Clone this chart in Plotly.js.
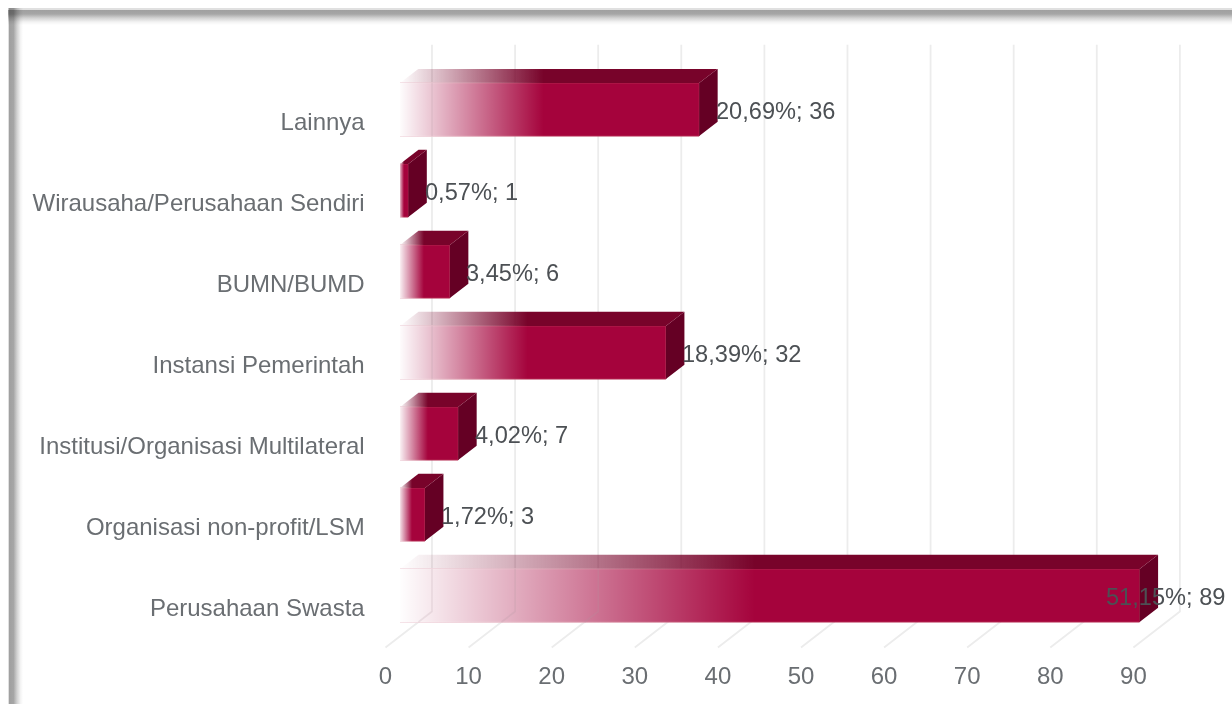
<!DOCTYPE html>
<html>
<head>
<meta charset="utf-8">
<script src="https://cdn.plot.ly/plotly-3.0.1.min.js"></script>
<style>
html,body{margin:0;padding:0;background:#fff;overflow:hidden;width:1232px;height:704px}
.band{position:absolute;mix-blend-mode:multiply}
#bandTop{left:8px;top:0;width:1224px;height:30px;background:linear-gradient(to bottom,#fff 8px,#e0e0e0 8px,#e0e0e0 9.5px,#a0a0a0 10px,#a6a6a6 14px,#d2d2d2 18px,#f3f3f3 22px,#fff 25px)}
#bandLeft{left:0;top:8px;width:30px;height:696px;background:linear-gradient(to right,#fff 8px,#e0e0e0 8px,#e0e0e0 9px,#a0a0a0 9.5px,#a6a6a6 13.5px,#d2d2d2 17px,#f3f3f3 20.5px,#fff 23px)}
#chart{position:absolute;left:0;top:0;width:1232px;height:704px;filter:blur(0.45px)}
</style>
</head>
<body>
<div id="bandTop" class="band"></div>
<div id="bandLeft" class="band"></div>
<div id="chart"></div>
<script>
const categories = ["Lainnya","Wirausaha/Perusahaan Sendiri","BUMN/BUMD","Instansi Pemerintah","Institusi/Organisasi Multilateral","Organisasi non-profit/LSM","Perusahaan Swasta"];
const counts = [36,1,6,32,7,3,89];
const percents = ["20,69%","0,57%","3,45%","18,39%","4,02%","1,72%","51,15%"];
const xTicks = [0,10,20,30,40,50,60,70,80,90];

const W = 1232, H = 704, PXU = 8.31, ROW = 81;
const FRONT = {l:385.5, t:81.5};
const BARS  = {l:400,   t:69};
const BACK  = {l:432,   t:44.5};
const domX = (l,u0,u1)=>[(l+u0*PXU)/W,(l+u1*PXU)/W];
const domY = (t,rows)=>[1-(t+rows*ROW)/H,1-t/H];
const idx = categories.map((_,i)=>i);

const CRIMSON = "#a5033c", TOP = "#78032a", SIDE = "#650024";
const barW = 53/ROW, dx = 18.5/PXU, dy = 14.2/ROW, fade = 0.48;
const wallDx = (BACK.l-FRONT.l)/PXU, wallDy = 36/ROW;

const traces = [];
// back wall and floor lines
const wallX=[], wallY=[];
xTicks.forEach(v=>{wallX.push(v,v,v-wallDx,null);wallY.push(-0.5,6.5,6.5+wallDy,null);});
traces.push({type:"scatter",mode:"lines",x:wallX,y:wallY,xaxis:"x",yaxis:"y",
  line:{color:"#ececec",width:1.8},hoverinfo:"skip",showlegend:false});

// real bars
traces.push({type:"bar",orientation:"h",x:counts,y:idx,width:barW,xaxis:"x2",yaxis:"y2",
  marker:{color:CRIMSON,line:{color:"#b3264f",width:1}},
  customdata:categories,hovertemplate:"%{customdata}: %{x}<extra></extra>",showlegend:false});

// side faces
const sx=[],sy=[];
counts.forEach((v,i)=>{const t=i-barW/2,b=i+barW/2;
  sx.push(v,v+dx,v+dx,v,v,null);sy.push(t,t-dy,b-dy,b,t,null);});
traces.push({type:"scatter",mode:"lines",x:sx,y:sy,xaxis:"x2",yaxis:"y2",fill:"toself",fillcolor:SIDE,
  line:{width:0,color:SIDE},hoverinfo:"skip",showlegend:false});

// top faces and fade on the front faces
counts.forEach((v,i)=>{
  const t=i-barW/2,b=i+barW/2,e=fade*v;
  const stop=Math.min(0.99,e/(v+dx));
  traces.push({type:"scatter",mode:"lines",x:[0,dx,v+dx,v,0],y:[t,t-dy,t-dy,t,t],xaxis:"x2",yaxis:"y2",fill:"toself",
    fillgradient:{type:"horizontal",colorscale:[[0,"rgba(120,3,42,0)"],[stop,"rgba(120,3,42,1)"],[1,"rgba(120,3,42,1)"]]},
    line:{width:0,color:TOP},hoverinfo:"skip",showlegend:false});
  traces.push({type:"scatter",mode:"lines",x:[-0.2,e,e,-0.2,-0.2],y:[t-0.01,t-0.01,b+0.01,b+0.01,t-0.01],xaxis:"x2",yaxis:"y2",fill:"toself",
    fillgradient:{type:"horizontal",colorscale:[[0,"rgba(255,255,255,1)"],[1,"rgba(255,255,255,0)"]]},
    line:{width:0,color:"rgba(255,255,255,0)"},hoverinfo:"skip",showlegend:false});
});

// wall lines showing faintly through the faded part of each bar
const wallInBars = (BACK.l-BARS.l)/PXU;
const floorInBars = (BACK.t+7*ROW-BARS.t)/ROW-0.5;
const thruX=[],thruY=[];
counts.forEach((v,i)=>{
  const t=i-barW/2,b=i+barW/2;
  xTicks.forEach(g=>{
    const gx=g+wallInBars;
    if(gx>=0.62*fade*v) return;
    if(b>floorInBars){
      thruX.push(gx,gx,gx-wallDx*(b-floorInBars)/wallDy,null);
      thruY.push(t,floorInBars,b,null);
    } else {
      thruX.push(gx,gx,null);thruY.push(t,b,null);
    }
  });
});
traces.push({type:"scatter",mode:"lines",x:thruX,y:thruY,xaxis:"x2",yaxis:"y2",
  line:{color:"rgba(175,150,160,0.2)",width:1.6},hoverinfo:"skip",showlegend:false});

// carrier for the front-plane axes
traces.push({type:"scatter",mode:"markers",x:counts,y:idx,xaxis:"x3",yaxis:"y3",
  marker:{size:1,opacity:0},hoverinfo:"skip",showlegend:false});

const hidden = {showticklabels:false,ticks:"",showline:false,zeroline:false,showgrid:false,fixedrange:true};
const tickFont = {family:"Liberation Sans, Arial, sans-serif",size:24,color:"#6a6e72"};
const annotations = counts.map((v,i)=>{
  const last = v===Math.max(...counts);
  return {xref:"x2",yref:"y2",x:v,y:i,showarrow:false,
    text:percents[i]+"; "+v,
    xanchor:last?"right":"left",xshift:last?87:14.5,yshift:-1,
    font:{family:"Liberation Sans, Arial, sans-serif",size:23.6,color:"#4c5054"}};
});

const layout = {
  width:W,height:H,margin:{l:0,r:0,t:0,b:0,pad:0},autosize:false,
  paper_bgcolor:"rgba(0,0,0,0)",plot_bgcolor:"rgba(0,0,0,0)",
  showlegend:false,barmode:"overlay",annotations,
  xaxis:Object.assign({},hidden,{domain:domX(BACK.l,-8,92),range:[-8,92],anchor:"y"}),
  yaxis:Object.assign({},hidden,{domain:domY(BACK.t,7.6),range:[7.1,-0.5],anchor:"x"}),
  xaxis2:Object.assign({},hidden,{domain:domX(BARS.l,0,100),range:[0,100],anchor:"y2"}),
  yaxis2:Object.assign({},hidden,{domain:domY(BARS.t,7),range:[6.5,-0.5],anchor:"x2"}),
  xaxis3:{domain:domX(FRONT.l,0,90),range:[0,90],anchor:"y3",tickvals:xTicks,ticktext:xTicks.map(String),
    ticks:"outside",ticklen:6,tickcolor:"rgba(0,0,0,0)",tickfont:tickFont,showgrid:false,zeroline:false,showline:false,fixedrange:true},
  yaxis3:{domain:domY(FRONT.t,7),range:[6.5,-0.5],anchor:"x3",tickvals:idx,ticktext:categories,
    ticks:"outside",ticklen:15,tickcolor:"rgba(0,0,0,0)",tickfont:tickFont,showgrid:false,zeroline:false,showline:false,fixedrange:true}
};
Plotly.newPlot("chart",traces,layout,{displayModeBar:false});
</script>
</body>
</html>
